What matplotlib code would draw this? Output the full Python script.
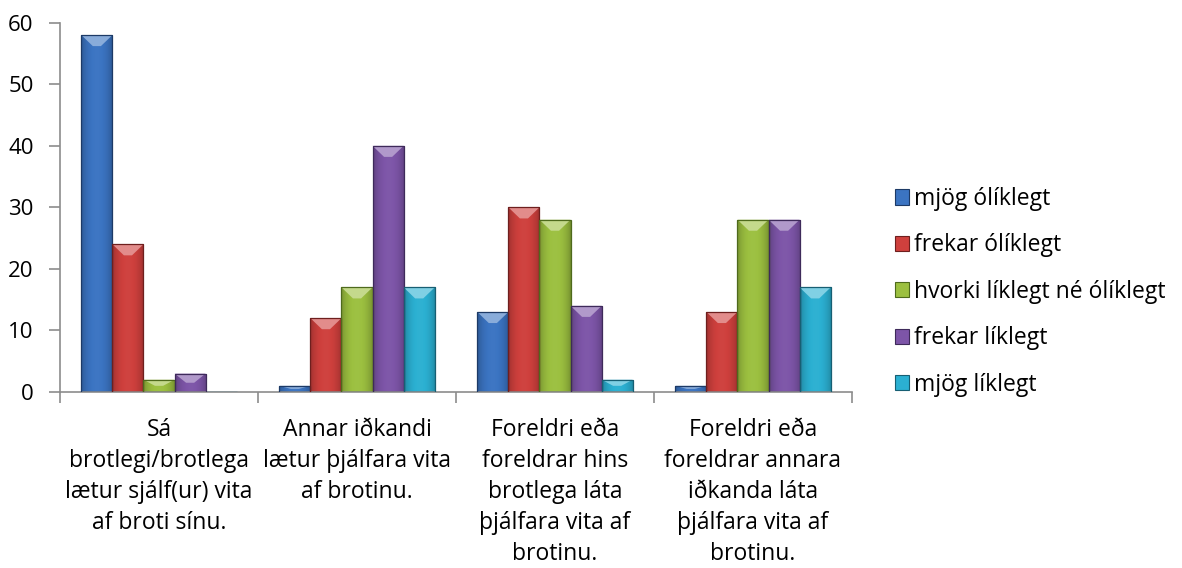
import numpy as np
import matplotlib
matplotlib.use("Agg")
import matplotlib.pyplot as plt
from matplotlib.colors import to_rgb
from matplotlib.patches import Polygon

# ────────── Data ──────────
categories = [
    "Sá\nbrotlegi/brotlega\nlætur sjálf(ur) vita\naf broti sínu.",
    "Annar iðkandi\nlætur þjálfara vita\naf brotinu.",
    "Foreldri eða\nforeldrar hins\nbrotlega láta\nþjálfara vita af\nbrotinu.",
    "Foreldri eða\nforeldrar annara\niðkanda láta\nþjálfara vita af\nbrotinu.",
]
series = ["mjög ólíklegt", "frekar ólíklegt", "hvorki líklegt né ólíklegt",
          "frekar líklegt", "mjög líklegt"]
mjog_oliklegt   = [58, 1, 13, 1]
frekar_oliklegt = [24, 12, 30, 13]
hvorki          = [2, 17, 28, 28]
frekar_liklegt  = [3, 40, 14, 28]
mjog_liklegt    = [0, 17, 2, 17]
values = [mjog_oliklegt, frekar_oliklegt, hvorki, frekar_liklegt, mjog_liklegt]

# ────────── Style ──────────
colors = ["#3b74c2", "#cf403d", "#9cc040", "#7d55a8", "#2bb0d2"]
edges  = ["#1d3a66", "#6e1f1e", "#4e6a1c", "#3e2a5a", "#175f73"]
AXIS_GREY = "#8c8c8c"
FS = 16.5

plt.rcParams['font.family'] = ['Open Sans', 'DejaVu Sans']


def scale(c, f):
    r, g, b = to_rgb(c)
    if f <= 1:
        return (r * f, g * f, b * f)
    f -= 1
    return (r + (1 - r) * f, g + (1 - g) * f, b + (1 - b) * f)


fig = plt.figure(figsize=(11.82, 5.68), dpi=100)
ax = fig.add_axes([0.0508, 0.3099, 0.6700, 0.6501])

x = np.arange(len(categories))
w = 0.157
t = np.linspace(0, 1, 64)
profile = 0.72 + 0.30 * np.sin(np.pi * t) ** 0.6

for i, (name, vals) in enumerate(zip(series, values)):
    bars = ax.bar(x + (i - 2) * w, vals, width=w, facecolor="none",
                  edgecolor=edges[i], linewidth=0.9, zorder=3)
    # legend proxy
    ax.bar([0], [0], width=0, color=colors[i], edgecolor=edges[i],
           linewidth=0.8, label=name)
    for b in bars:
        x0, y0 = b.get_xy()
        bw, bh = b.get_width(), b.get_height()
        if bh <= 0:
            continue
        grad = np.array([[scale(colors[i], f) for f in profile]])
        im = ax.imshow(grad, extent=(x0, x0 + bw, y0, y0 + bh),
                       aspect="auto", interpolation="bilinear", zorder=2)
        im.set_clip_path(b)
        # bevel on top
        d = min(1.8, bh * 0.5)
        top = y0 + bh
        bevel = Polygon([(x0, top), (x0 + bw, top),
                         (x0 + bw * 0.63, top - d), (x0 + bw * 0.37, top - d)],
                        closed=True, facecolor=scale(colors[i], 1.4),
                        edgecolor="none", zorder=2.5)
        ax.add_patch(bevel)

ax.set_xlim(-0.5, len(categories) - 0.5)
ax.set_ylim(0, 60)
ax.set_yticks(range(0, 61, 10))
ax.tick_params(axis='y', labelsize=16, length=8, width=1.2,
               color=AXIS_GREY, pad=11)
ax.set_xticks(np.arange(-0.5, len(categories), 1))
ax.set_xticklabels([])
ax.tick_params(axis='x', length=8, width=1.2, color=AXIS_GREY)

for s in ["top", "right"]:
    ax.spines[s].set_visible(False)
for s in ["left", "bottom"]:
    ax.spines[s].set_color(AXIS_GREY)
    ax.spines[s].set_linewidth(1.2)

for xi, lab in zip(x, categories):
    ax.text(xi, -4.3, lab, ha="center", va="top", fontsize=FS,
            linespacing=1.38)

ax.legend(loc="center left", bbox_to_anchor=(0.757, 0.486),
          bbox_transform=fig.transFigure, frameon=False, fontsize=FS,
          handlelength=0.64, handleheight=0.64, handletextpad=0.2,
          labelspacing=0.98, borderpad=0, borderaxespad=0)

fig.savefig("out.png", dpi=100)
